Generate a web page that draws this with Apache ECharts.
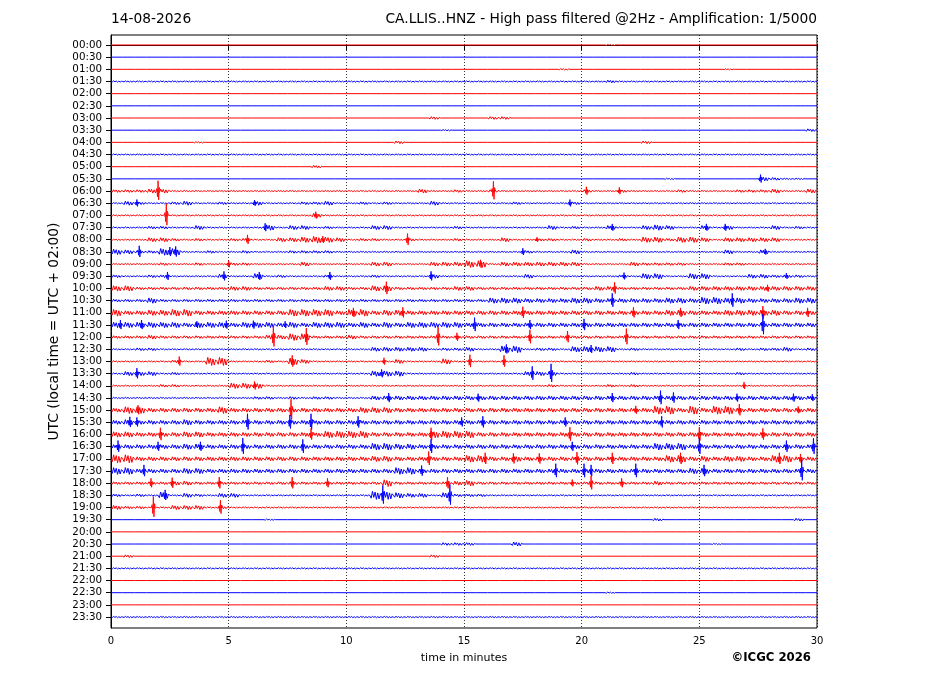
<!DOCTYPE html>
<html>
<head>
<meta charset="utf-8">
<title>CA.LLIS..HNZ helicorder</title>
<script src="https://cdn.jsdelivr.net/npm/echarts@6/dist/echarts.min.js"></script>
<style>
  html, body { margin: 0; padding: 0; background: #fff; }
  #chart { width: 927px; height: 696px; }
</style>
</head>
<body>
<div id="chart"></div>
<script>
// Hour labels of the 48 half-hour traces, top to bottom
const timeLabels = [
  '00:00', '00:30', '01:00', '01:30', '02:00', '02:30', '03:00', '03:30',
  '04:00', '04:30', '05:00', '05:30', '06:00', '06:30', '07:00', '07:30',
  '08:00', '08:30', '09:00', '09:30', '10:00', '10:30', '11:00', '11:30',
  '12:00', '12:30', '13:00', '13:30', '14:00', '14:30', '15:00', '15:30',
  '16:00', '16:30', '17:00', '17:30', '18:00', '18:30', '19:00', '19:30',
  '20:00', '20:30', '21:00', '21:30', '22:00', '22:30', '23:00', '23:30'
];

// Envelope level (0-9) of each trace, one digit per 30 s, groups of 5 minutes
const traceNoise = [
  '0000000000 0000000000 0000000000 0000000000 0010000000 0000000000', // 00:00
  '0000000000 0000000000 0000000000 0000000000 0000000000 0000000000',
  '0000000000 0000000000 0000000000 0000000010 0000000000 0010000000',
  '1111111111 1111111111 1111111111 1111111111 1121111111 1111111111',
  '0000000000 0000000000 0000000000 0000000000 0000000000 0000000000',
  '0000000000 0000000000 0000000000 0000000000 0000000000 0000000000',
  '0000000000 0000000000 0000000200 0022000000 0000000000 0000000000', // 03:00
  '0000000000 0000000000 0000000010 0000000000 0000000000 0000000002',
  '0000000100 0000000000 0000200000 0000000000 0000020000 0000000000',
  '1111111111 1111111111 1111111111 1111111111 1111111111 1111111111',
  '0000000000 0000000200 0000000000 0000000000 0000000000 0000000000',
  '0000000000 0000000000 0000000000 0000000000 0000000100 0000032110',
  '2223311111 1111111111 1111113112 1121111111 2112111121 1112223113', // 06:00
  '1321123112 1131112231 1212111311 1111211112 1111111111 1111111111',
  '1111111111 1111111311 1111111111 1111111111 1111111111 1111111111',
  '1112211311 1114133121 1133111112 1111111312 1131134311 3131113121',
  '1113321211 2211334543 1221121112 1113112211 2112144244 3133333111',
  '4322551121 1211122221 1111111111 1111121113 1111111111 1131131111',
  '1111211211 2211113111 1133111333 5513333333 1111322221 1122111111', // 09:00
  '2112211113 1141211121 1121111311 1111131111 1112144114 4111332221',
  '4422222222 3322222233 2244222223 3222222222 2332222223 3333333333',
  '2224222222 2222222222 2222222222 2244433334 4333333443 5544333344',
  '5334455333 3333355553 5534433333 3333333333 3333333443 3344444333',
  '4444443444 3444343444 3434344444 3333333333 3333333333 3333333333',
  '2223222222 2223355222 3222222222 2222222222 2222222222 2222222222', // 12:00
  '1122111111 1111111111 1133333122 3115512214 4441211111 1112122312',
  '1111121166 1112153111 1111311141 1111111111 1111111111 1111111111',
  '1333121111 1111111111 1144411111 1111133311 1111211111 1112111111',
  '1111221111 4441111111 1111111111 1111111211 1121211111 1111111111',
  '1111111111 1122121221 1133333333 3333333333 3333333333 3333333333',
  '3553333335 3333333333 3444333333 3333333333 3333336636 3663333333', // 15:00
  '3433334333 3333333333 3333333333 3333333333 3333333333 3333333333',
  '4433334433 3333333355 5533333555 5333333333 3333333333 3333333333',
  '3333334433 3333333333 3355443333 3333333333 3333335553 3333333333',
  '6633333333 3333333333 3344333333 5533433333 3333333553 4344335533',
  '5533334433 3333333333 3333553333 3333333333 3333333334 4333333333',
  '2222233222 2222222222 2225222223 4222222222 2222223222 2222222222', // 18:00
  '2121513213 3111111111 1166433142 2211111111 1111111111 1111111111',
  '3221133312 1111111111 1111111111 1111111111 1111111111 1111111111',
  '0000000000 0001000000 0000000000 0000000000 0000002000 0000000020',
  '0000000000 0000000000 0000000000 0000000000 0000000000 0000000000',
  '0000000000 0000000000 0000000022 2000300000 0000000000 0100000000',
  '0200000000 0000000000 0000000200 0000000000 0000000000 0000000000', // 21:00
  '1111111111 1111111111 1111111111 1111111111 1111111111 1111111111',
  '0000000000 0000000000 0000000000 0000000000 0000000000 0000000000',
  '0000000000 0000000000 0000000000 0000000000 0010000000 0000000000',
  '0000000000 0000000000 0000000000 0000000000 0000000000 0000000000',
  '1111111111 1111111111 1111111111 1111111111 1111111111 1111111111'
];

// Isolated spikes: [trace index, minute, half amplitude in trace spacings]
const traceSpikes = [
  [11, 27.6, 0.35],
  [12, 2.0, 0.85], [12, 16.25, 0.8], [12, 20.2, 0.35], [12, 21.6, 0.3],
  [13, 1.1, 0.3], [13, 6.1, 0.25], [13, 19.5, 0.3],
  [14, 2.35, 0.95], [14, 8.7, 0.3],
  [15, 6.55, 0.35], [15, 21.3, 0.3], [15, 25.3, 0.3], [15, 26.1, 0.3],
  [16, 5.8, 0.4], [16, 9.0, 0.3], [16, 12.6, 0.5], [16, 18.1, 0.2],
  [17, 1.2, 0.5], [17, 2.5, 0.4], [17, 2.75, 0.45], [17, 17.5, 0.3], [17, 27.8, 0.25],
  [18, 5.0, 0.3], [18, 15.7, 0.35],
  [19, 2.4, 0.35], [19, 4.8, 0.4], [19, 6.3, 0.35], [19, 9.3, 0.35], [19, 13.6, 0.4],
  [19, 21.8, 0.3], [19, 28.7, 0.25],
  [20, 11.7, 0.55], [20, 21.4, 0.5], [20, 27.9, 0.3],
  [21, 21.3, 0.6], [21, 26.4, 0.6],
  [22, 10.3, 0.4], [22, 12.4, 0.45], [22, 17.5, 0.5], [22, 22.2, 0.45], [22, 24.2, 0.4],
  [22, 27.7, 0.55], [22, 29.6, 0.4],
  [23, 0.4, 0.4], [23, 1.3, 0.4], [23, 3.65, 0.3], [23, 4.9, 0.35], [23, 6.05, 0.35],
  [23, 7.4, 0.3], [23, 15.45, 0.6], [23, 17.8, 0.4], [23, 20.1, 0.5], [23, 24.1, 0.4],
  [23, 27.7, 0.9],
  [24, 6.9, 0.9], [24, 8.3, 0.75], [24, 13.9, 0.8], [24, 14.7, 0.35], [24, 17.8, 0.6],
  [24, 19.4, 0.5], [24, 21.9, 0.7],
  [25, 16.8, 0.4], [25, 20.4, 0.35],
  [26, 2.9, 0.4], [26, 7.7, 0.5], [26, 11.6, 0.3], [26, 15.25, 0.55], [26, 16.7, 0.5],
  [27, 1.1, 0.45], [27, 11.5, 0.35], [27, 17.9, 0.6], [27, 18.7, 0.8],
  [28, 6.1, 0.35], [28, 26.9, 0.3],
  [29, 11.8, 0.4], [29, 15.6, 0.35], [29, 21.3, 0.4], [29, 23.35, 0.6], [29, 23.9, 0.45],
  [29, 26.6, 0.35], [29, 29.0, 0.35], [29, 29.8, 0.3],
  [30, 1.15, 0.4], [30, 7.65, 0.9], [30, 22.3, 0.35], [30, 26.7, 0.5], [30, 29.2, 0.3],
  [31, 0.8, 0.45], [31, 1.1, 0.4], [31, 5.8, 0.7], [31, 7.6, 0.6], [31, 8.5, 0.7],
  [31, 10.5, 0.5], [31, 14.9, 0.4], [31, 15.8, 0.5], [31, 19.3, 0.4], [31, 23.4, 0.5],
  [32, 2.1, 0.55], [32, 8.5, 0.5], [32, 13.6, 0.55], [32, 19.5, 0.6], [32, 25.0, 0.6],
  [32, 27.7, 0.5],
  [33, 0.3, 0.5], [33, 2.0, 0.4], [33, 3.8, 0.4], [33, 5.6, 0.7], [33, 8.15, 0.6],
  [33, 13.6, 0.6], [33, 19.6, 0.4], [33, 25.0, 0.7], [33, 28.7, 0.5], [33, 29.85, 0.7],
  [34, 13.5, 0.6], [34, 15.9, 0.5], [34, 17.1, 0.45], [34, 18.2, 0.45], [34, 19.8, 0.55],
  [34, 21.3, 0.5], [34, 24.2, 0.5], [34, 28.4, 0.5], [34, 29.3, 0.4],
  [35, 1.4, 0.5], [35, 13.2, 0.45], [35, 18.9, 0.6], [35, 20.1, 0.6], [35, 20.4, 0.5],
  [35, 22.3, 0.6], [35, 25.2, 0.5], [35, 29.35, 0.9],
  [36, 1.7, 0.4], [36, 2.6, 0.45], [36, 4.6, 0.5], [36, 7.7, 0.5], [36, 9.2, 0.4],
  [36, 14.3, 0.5], [36, 19.6, 0.3], [36, 20.4, 0.6], [36, 21.7, 0.4],
  [37, 2.3, 0.45], [37, 11.55, 0.8], [37, 14.4, 0.9],
  [38, 1.8, 0.9], [38, 4.65, 0.6]
];

const minuteTicks = [0, 5, 10, 15, 20, 25, 30];
const traceColors = ['#ff0000', '#0000ff'];

// drawing constants
const BIN = 0.5;           // minutes per envelope digit
const LEVEL_AMP = 0.055;   // trace spacings per envelope level
const WIGGLE = [0, 0.7, -1, 0.5, -0.8, 1, -0.6, 0.9, -0.4, 0];
// spike shape: [pixel offset, fraction of amplitude]
const SPIKE = [[-2, 0], [-1.2, 0.25], [-0.6, -0.55], [0, 1], [0.6, -0.85], [1.2, 0.35], [2, 0]];

// envelope items [start minute, trace, level]
const noiseData = [];
traceNoise.forEach((row, k) => {
  row.replace(/ /g, '').split('').forEach((d, i) => {
    noiseData.push([i * BIN, k, +d]);
  });
});

function renderNoise(params, api) {
  const m = api.value(0);
  const k = api.value(1);
  const lv = api.value(2);
  const a = api.coord([m, k]);
  const b = api.coord([m + BIN, k]);
  const unit = api.size([0, 1])[1];
  const amp = lv * LEVEL_AMP * unit;
  let pts;
  if (lv === 0) {
    pts = [a, b];
  } else {
    pts = WIGGLE.map((w, j) => [a[0] + (b[0] - a[0]) * j / (WIGGLE.length - 1), a[1] + w * amp]);
  }
  return {
    type: 'polyline',
    shape: { points: pts },
    style: { stroke: traceColors[k % 2], fill: null, lineWidth: 1 }
  };
}

function renderSpike(params, api) {
  const m = api.value(0);
  const k = api.value(1);
  const c = api.coord([m, k]);
  const amp = api.value(2) * api.size([0, 1])[1];
  const pts = SPIKE.map(s => [c[0] + s[0], c[1] - s[1] * amp]);
  return {
    type: 'polyline',
    shape: { points: pts },
    style: { stroke: traceColors[k % 2], fill: null, lineWidth: 0.9 }
  };
}

const chart = echarts.init(document.getElementById('chart'), null, { renderer: 'canvas' });

const font = 'DejaVu Sans, sans-serif';
const traceIdx = timeLabels.map((_, i) => i);

chart.setOption({
  animation: false,
  backgroundColor: '#fff',
  grid: {
    left: 111, right: 110, top: 35, bottom: 68,
    show: true, borderColor: '#000', borderWidth: 1, backgroundColor: 'transparent'
  },
  graphic: [
    {
      type: 'text', left: 111, top: 12,
      style: { text: '14-08-2026', font: '13.8px ' + font, fill: '#000' }
    },
    {
      type: 'text', right: 110, top: 12,
      style: { text: 'CA.LLIS..HNZ - High pass filtered @2Hz - Amplification: 1/5000', font: '13.8px ' + font, fill: '#000' }
    },
    {
      type: 'text', right: 116, top: 651,
      style: { text: '©ICGC 2026', font: 'bold 13px DejaVu Sans Condensed, DejaVu Sans, sans-serif', fill: '#000' }
    }
  ],
  xAxis: {
    type: 'value',
    min: minuteTicks[0],
    max: minuteTicks[minuteTicks.length - 1],
    interval: 5,
    name: 'time in minutes',
    nameLocation: 'middle',
    nameGap: 25,
    nameTextStyle: { fontFamily: font, fontSize: 11, color: '#000' },
    axisLine: { show: true, lineStyle: { color: '#000', width: 1 } },
    axisTick: { show: true, inside: false, length: 5, lineStyle: { color: '#000' } },
    axisLabel: { fontFamily: font, fontSize: 10, color: '#000', margin: 8 },
    splitLine: { show: true, lineStyle: { color: '#000', type: [1, 2], width: 0.8 } }
  },
  yAxis: {
    type: 'value',
    inverse: true,
    min: -0.82,
    max: 47.9,
    name: 'UTC (local time = UTC + 02:00)',
    nameLocation: 'middle',
    nameGap: 48,
    nameRotate: 90,
    nameTextStyle: { fontFamily: font, fontSize: 13.8, color: '#000' },
    axisLine: { show: true, lineStyle: { color: '#000', width: 1 } },
    axisTick: { show: true, inside: false, length: 5, customValues: traceIdx, lineStyle: { color: '#000' } },
    axisLabel: {
      fontFamily: font, fontSize: 10.3, color: '#000', margin: 9,
      customValues: traceIdx,
      formatter: v => timeLabels[Math.round(v)] || ''
    },
    splitLine: { show: false }
  },
  series: [
    {
      type: 'custom',
      name: 'envelope',
      renderItem: renderNoise,
      data: noiseData,
      clip: true,
      silent: true,
      z: 3
    },
    {
      type: 'custom',
      name: 'spikes',
      renderItem: renderSpike,
      data: traceSpikes.map(s => [s[1], s[0], s[2]]),
      clip: true,
      silent: true,
      z: 4
    }
  ]
});
</script>
</body>
</html>
